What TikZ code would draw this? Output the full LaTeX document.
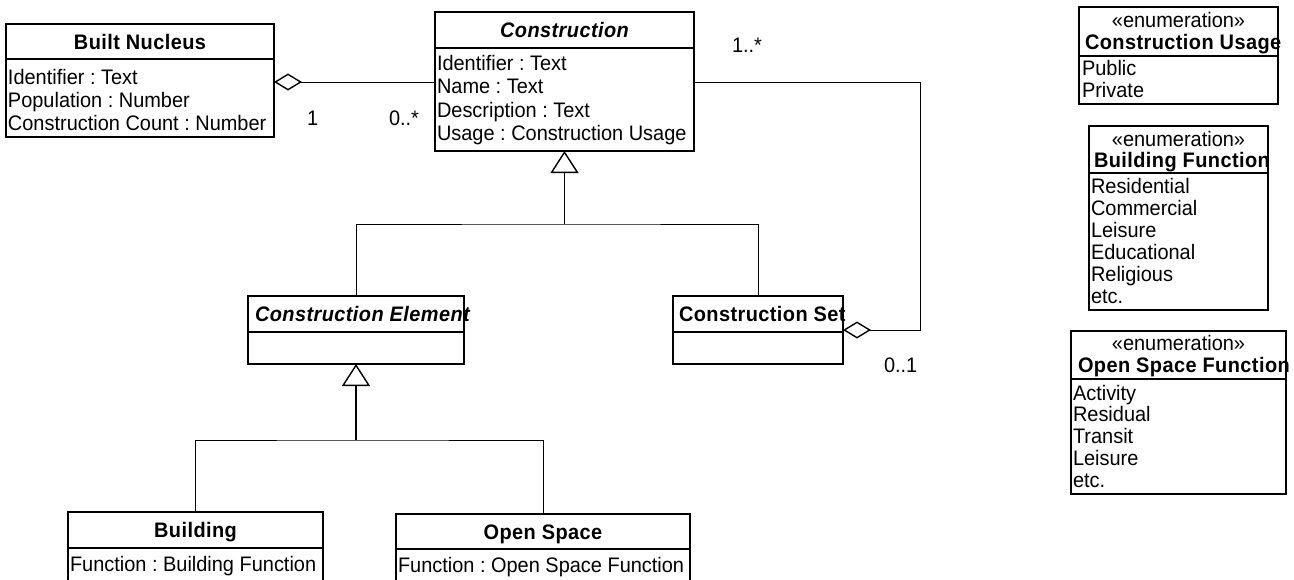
\documentclass[tikz,border=0pt]{standalone}
\usepackage{fontspec}
\setmainfont{Liberation Sans}[FakeStretch=0.95]
\newfontfamily\namefont{Liberation Sans}[FakeStretch=0.95, LetterSpace=2]
\usetikzlibrary{arrows.meta}
\frenchspacing

% frame of a class or enumeration: name, left, top, right, bottom, divider
\newcommand{\classframe}[6]{%
  \node[umlframe, minimum width={#4-#2}, minimum height={#5-#3}] (#1) at (#2,#3) {};
  \draw[divider] (#1.west |- 0,#6) -- (#1.east |- 0,#6);}

\begin{document}
\begin{tikzpicture}[x=1pt, y=-1pt,
  umlframe/.style={draw, line width=1.6pt, inner sep=0pt, outer sep=0pt, anchor=north west},
  divider/.style={line width=1.6pt},
  txt/.style={inner sep=0pt, outer sep=0pt, font=\fontsize{21}{24}\selectfont},
  ttl/.style={txt, font=\fontsize{21}{24}\namefont\bfseries},
  ttlit/.style={txt, font=\fontsize{21}{24}\namefont\bfseries\itshape},
  conn/.style={line width=1pt},
  stem/.style={line width=1.6pt},
  agg/.style={conn, {Diamond[fill=white, length=28pt, width=17pt, line width=1.4pt]}-},
  gen/.style={stem, -{Triangle[open, length=22pt, width=28pt, line width=1.4pt]}}
]
\useasboundingbox (0,0) rectangle (1294,579);
\clip (0,0) rectangle (1294,579);

% ---------------- classes ----------------
\classframe{bn}{6}{24}{274}{137}{59}
\node[ttl, anchor=base] (bn-t) at (140,49) {Built Nucleus};
\foreach \entry [count=\i] in {Identifier : Text, Population : Number, Construction Count : Number}
  \node[txt, anchor=base west] (bn-a\i) at (8,{61+23*\i}) {\entry};

\classframe{cons}{435}{12}{694}{151}{48}
\node[ttlit, anchor=base] (cons-t) at (564.5,37) {Construction};
\foreach \entry [count=\i] in {Identifier : Text, Name : Text, Description : Text, Usage : Construction Usage}
  \node[txt, anchor=base west] (cons-a\i) at (437,{46.5+23.5*\i}) {\entry};

\classframe{ce}{248}{296}{464}{364}{332}
\node[ttlit, anchor=base west] (ce-t) at (255,321) {Construction Element};

\classframe{cs}{673}{296}{843}{364}{332}
\node[ttl, anchor=base west] (cs-t) at (679,321) {Construction Set};

\classframe{bld}{68}{512}{323}{600}{548}
\node[ttl, anchor=base] (bld-t) at (195.5,537) {Building};
\node[txt, anchor=base west] (bld-a1) at (70,571) {Function : Building Function};

\classframe{os}{396}{514}{690}{600}{549}
\node[ttl, anchor=base] (os-t) at (543,539) {Open Space};
\node[txt, anchor=base west] (os-a1) at (398,572) {Function : Open Space Function};

% ---------------- enumerations ----------------
\classframe{cu}{1079}{7}{1278}{104}{56}
\node[txt, anchor=base] (cu-s) at (1178.5,27) {«enumeration»};
\node[ttl, anchor=base west] (cu-t) at (1085,49) {Construction Usage};
\foreach \entry [count=\i] in {Public, Private}
  \node[txt, anchor=base west] (cu-v\i) at (1082,{53+22*\i}) {\entry};

\classframe{bf}{1089}{126}{1268}{310}{173}
\node[txt, anchor=base] (bf-s) at (1178.5,146) {«enumeration»};
\node[ttl, anchor=base west] (bf-t) at (1094,167) {Building Function};
\foreach \entry [count=\i] in {Residential, Commercial, Leisure, Educational, Religious, etc.}
  \node[txt, anchor=base west] (bf-v\i) at (1091,{171+22*\i}) {\entry};

\classframe{osf}{1071}{331}{1286}{494}{379}
\node[txt, anchor=base] (osf-s) at (1178.5,350) {«enumeration»};
\node[ttl, anchor=base west] (osf-t) at (1078,372) {Open Space Function};
\foreach \entry [count=\i] in {Activity, Residual, Transit, Leisure, etc.}
  \node[txt, anchor=base west] (osf-v\i) at (1073,{378.25+21.75*\i}) {\entry};

% ---------------- generalizations ----------------
\coordinate (g1) at (564.5,224);
\draw[conn] (ce.north) |- (g1) -| (cs.north);
\draw[gen] (g1) -- (cons.south);

\coordinate (g2) at (356,440);
\draw[conn] (bld.north) |- (g2) -| (os.north);
\draw[gen] (g2) -- (ce.south);

% ---------------- aggregations ----------------
\draw[agg] (bn.east |- 0,82) -- (cons.west |- 0,82);
\node[txt, anchor=base west] (m-bn) at (307,125) {1};
\node[txt, anchor=base west] (m-cons) at (389,125) {0..*};

\coordinate (rc) at (920,82);
\draw[agg] (cs.east |- 0,330) -| (rc) -- (cons.east |- rc);
\node[txt, anchor=base west] (m-top) at (732,52) {1..*};
\node[txt, anchor=base west] (m-cs) at (884,372) {0..1};
\end{tikzpicture}
\end{document}
